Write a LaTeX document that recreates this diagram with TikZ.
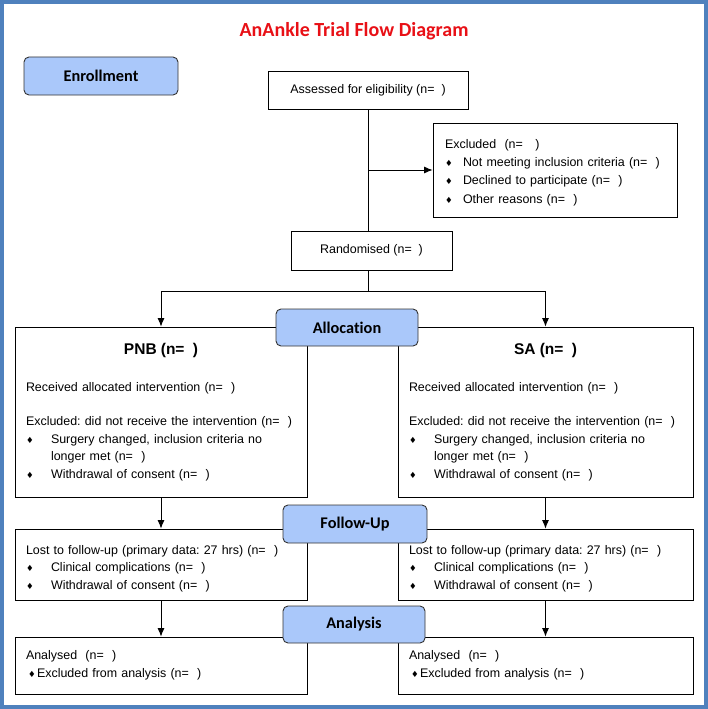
\documentclass[tikz,border=0pt]{standalone}
\usepackage{fontspec}
\setmainfont{Liberation Sans}
\newfontfamily\headfont[Ligatures=NoCommon]{Carlito}
\newfontfamily\symfont{DejaVu Sans}
\usetikzlibrary{positioning, arrows.meta}
\frenchspacing

\definecolor{phaseblue}{RGB}{170,200,250}
\definecolor{framecol}{RGB}{79,129,189}
\definecolor{titlered}{RGB}{232,16,22}

\newcommand{\nn}{(n=\ \ )}
\newcommand{\dia}{{\symfont\fontsize{8.5}{8.5}\selectfont\char"2666}}
\newcommand{\bitem}[2][25pt]{\makebox[#1][l]{\dia}#2}

\begin{document}
\begin{tikzpicture}[
        x=1pt, y=-1pt,
        phase/.style = {draw=black!80, line width=0.9pt, rounded corners=5pt, fill=phaseblue,
            font=\headfont\bfseries\fontsize{16.3}{18}\selectfont,
            minimum width=142pt, minimum height=37pt}, % Stage boxes
        cell/.style = {draw, line width=0.7pt, align=left, inner xsep=11pt, inner ysep=0pt,
            font=\fontsize{12.45}{17.5}\selectfont},
        flow/.style = {-{Latex[length=8.5pt, width=7pt]}, line width=1pt},
    ]
    \useasboundingbox (0,0) rectangle (708,709);
    \draw[framecol, line width=3.5pt] (2,2) rectangle (706,707);

    \node[font=\headfont\bfseries\fontsize{20}{22}\selectfont, text=titlered] (title) at (354,31) {AnAnkle Trial Flow Diagram};

    % Enrollment
    \node[cell, align=center, minimum width=200pt, minimum height=38pt] (assess) at (368,90) {Assessed for eligibility \nn};
    \node[cell, inner xsep=12pt, text width=220pt, minimum height=94pt, font=\fontsize{12.45}{18.3}\selectfont] (excl) at (555,170) {%
        \rule{0pt}{14pt}Excluded\ \ (n=\ \ \ )\\
        \bitem[18pt]{Not meeting inclusion criteria \nn}\\
        \bitem[18pt]{Declined to participate \nn}\\
        \bitem[18pt]{Other reasons \nn}};
    \node[cell, align=center, minimum width=161pt, minimum height=39pt] (random) at (371.5,250.5) {Randomised \nn};

    % Allocation
    \node[cell, text width=270pt, minimum height=170pt] (pnb) at (161,412) {%
        \makebox[\linewidth]{\fontsize{15.5}{18}\selectfont\bfseries PNB \nn}\\[19.5pt]
        Received allocated intervention \nn\\[16.5pt]
        Excluded: did not receive the intervention \nn\\
        \bitem{Surgery changed, inclusion criteria no}\\
        \hspace*{25pt}longer met \nn\\
        \bitem{Withdrawal of consent \nn}};
    \node[cell, text width=273pt, minimum height=170pt] (sa) at (545.5,412) {%
        \makebox[\linewidth]{\fontsize{15.5}{18}\selectfont\bfseries SA \nn}\\[19.5pt]
        Received allocated intervention \nn\\[16.5pt]
        Excluded: did not receive the intervention \nn\\
        \bitem{Surgery changed, inclusion criteria no}\\
        \hspace*{25pt}longer met \nn\\
        \bitem{Withdrawal of consent \nn}};

    % Follow-up
    \node[cell, text width=270pt, minimum height=71pt] (lostL) at (161,564.5) {%
        \rule{0pt}{17.5pt}Lost to follow-up (primary data: 27 hrs) \nn\\
        \bitem{Clinical complications \nn}\\
        \bitem{Withdrawal of consent \nn}};
    \node[cell, text width=273pt, minimum height=71pt] (lostR) at (545.5,564.5) {%
        \rule{0pt}{17.5pt}Lost to follow-up (primary data: 27 hrs) \nn\\
        \bitem{Clinical complications \nn}\\
        \bitem{Withdrawal of consent \nn}};

    % Analysis
    \node[cell, text width=270pt, minimum height=57pt] (anL) at (161,665.5) {%
        Analysed\ \ \nn\\
        \hspace*{2pt}\bitem[9pt]{Excluded from analysis \nn}};
    \node[cell, text width=273pt, minimum height=57pt] (anR) at (545.5,665.5) {%
        Analysed\ \ \nn\\
        \hspace*{2pt}\bitem[9pt]{Excluded from analysis \nn}};

    % Stage labels
    \node[phase, minimum width=154pt, minimum height=38pt] (enroll) at (101,76) {Enrollment};
    \node[phase] (alloc) at (347,327.5) {Allocation};
    \node[phase, minimum width=144pt, minimum height=38pt] (follow) at (355,524) {Follow-Up};
    \node[phase] (analysis) at (354,624.5) {Analysis};

    % Connectors
    \draw[line width=1pt] (assess.south) -- (assess.south |- random.north);
    \draw[flow] (assess.south |- excl.west) -- (excl.west);
    \draw[line width=1pt] (random.south -| assess.south) -- ++(0,21.5) coordinate (split);
    \draw[flow] (split) -| (pnb.north);
    \draw[flow] (split) -| (sa.north);
    \draw[flow] (pnb.south) -- (lostL.north);
    \draw[flow] (sa.south) -- (lostR.north);
    \draw[flow] (lostL.south) -- (anL.north);
    \draw[flow] (lostR.south) -- (anR.north);
\end{tikzpicture}
\end{document}
